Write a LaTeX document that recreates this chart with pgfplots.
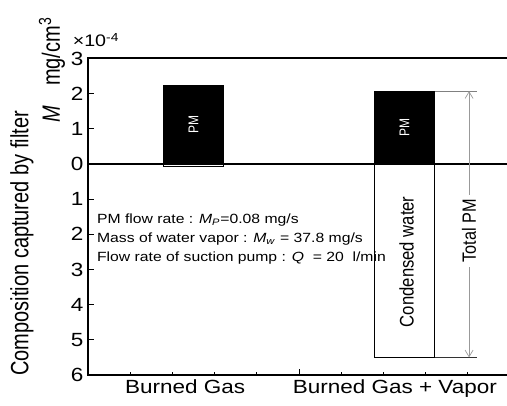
\documentclass[border=0pt]{standalone}
\usepackage{pgfplots}
\pgfplotsset{compat=1.18}
\usepackage{fontspec}
\setmainfont{Liberation Sans}
\usepackage{graphicx}
\usetikzlibrary{arrows.meta}
\newcommand{\sx}[1]{\scalebox{1.18}[1]{#1}}
\newcommand{\sv}[1]{\scalebox{1}[1.18]{#1}}
\begin{document}
\begin{tikzpicture}
\useasboundingbox (0,0) rectangle (380.25pt,304.5pt);
\begin{axis}[
  at={(66pt,23.25pt)}, anchor=south west,
  scale only axis, width=316.5pt, height=237.4pt,
  xmin=0, xmax=10, ymin=-6, ymax=3,
  axis line style={line width=1.5pt},
  xtick={5}, xticklabels={},
  minor xtick={1,2,3,4,6,7,8,9},
  extra x ticks={2.3,7.27},
  extra x tick labels={\sx{Burned Gas},\sx{Burned Gas + Vapor}},
  extra x tick style={major tick length=0pt, tick style={draw=none}},
  ytick={-6,-5,-4,-3,-2,-1,0,1,2,3},
  yticklabels={\sx{6},\sx{5},\sx{4},\sx{3},\sx{2},\sx{1},\sx{0},\sx{1},\sx{2},\sx{3}},
  tick style={line width=0.75pt, black},
  major tick length=4.5pt, minor tick length=2.5pt,
  xtick pos=bottom, ytick pos=left,
  tick align=inside,
  ticklabel style={font=\fontsize{14.3}{16}\selectfont},
  clip=false,
]
\addplot[ybar, bar width=1.43, bar shift=0, fill=black, draw=black, line width=0.6pt] coordinates {(2.5,2.24) (7.5,2.07)};
\addplot[ybar, bar width=1.43, bar shift=0, fill=white, draw=black, line width=0.6pt] coordinates {(2.5,-0.08) (7.5,-5.5)};
\addplot[black, line width=1.6pt] coordinates {(0,0) (10,0)};
\addplot[gray, line width=0.6pt] coordinates {(8.215,2.07) (9.21,2.07)};
\addplot[black!80, line width=0.6pt] coordinates {(8.215,-5.5) (9.21,-5.5)};
\addplot[gray!80, line width=0.5pt, -{Straight Barb[length=5pt,width=6pt]}] coordinates {(9.03,-0.88) (9.03,2.07)};
\addplot[gray!80, line width=0.5pt, -{Straight Barb[length=5pt,width=6pt]}] coordinates {(9.03,-2.93) (9.03,-5.5)};
\node[rotate=90, white, font=\fontsize{9}{10}\selectfont] at (axis cs:2.5,1.12) {\sv{PM}};
\node[rotate=90, white, font=\fontsize{9}{10}\selectfont] at (axis cs:7.5,1.04) {\sv{PM}};
\node[rotate=90, font=\fontsize{12.5}{14}\selectfont] at (axis cs:7.55,-2.78) {\sv{Condensed water}};
\node[rotate=90, font=\fontsize{12.2}{14}\selectfont] at (axis cs:9.03,-1.9) {\sv{Total PM}};
\node[anchor=base west, inner sep=0pt, font=\fontsize{10}{12}\selectfont] at (axis cs:0.21,-1.68) {\sx{PM flow rate : \textit{M}\textsubscript{\textit{P}}=0.08 mg/s}};
\node[anchor=base west, inner sep=0pt, font=\fontsize{10}{12}\selectfont] at (axis cs:0.21,-2.22) {\sx{Mass of water vapor : \textit{M}\textsubscript{\textit{w}} = 37.8 mg/s}};
\node[anchor=base west, inner sep=0pt, font=\fontsize{10}{12}\selectfont] at (axis cs:0.21,-2.76) {\sx{Flow rate of suction pump : \textit{Q}~ = 20~ l/min}};
\end{axis}
\node[rotate=90, font=\fontsize{15}{17}\selectfont] at (16.5pt,122pt) {\scalebox{1}[1.25]{Composition captured by filter}};
\node[rotate=90, font=\fontsize{15}{17}\selectfont] at (39pt,252pt) {\scalebox{1}[1.25]{\textit{M}\hspace{1em}mg/cm\textsuperscript{3}}};
\node[font=\fontsize{12.5}{14}\selectfont] at (72pt,274.5pt) {\sx{×10\textsuperscript{-4}}};
\end{tikzpicture}
\end{document}
